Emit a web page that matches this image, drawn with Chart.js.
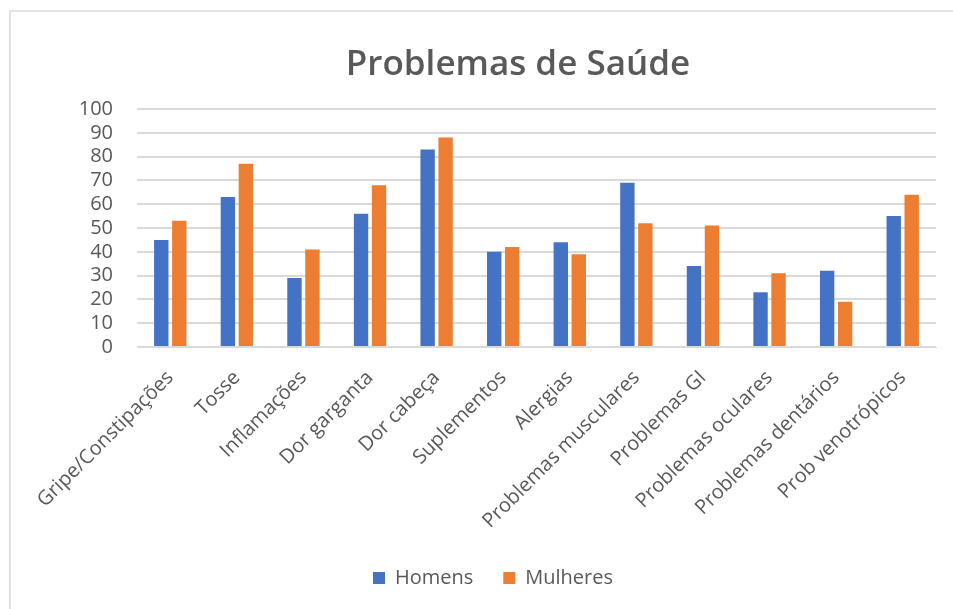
<!DOCTYPE html>
<html>
<head>
<meta charset="utf-8">
<script src="https://cdn.jsdelivr.net/npm/chart.js@4"></script>
<style>
html,body{margin:0;padding:0;background:#fff;}
#wrap{position:absolute;left:0;top:0;width:953px;height:609px;}
#frame{position:absolute;left:9px;top:10px;width:960px;height:620px;border-left:2px solid #e3e3e3;border-top:2px solid #e3e3e3;}
canvas{position:absolute;left:0;top:0;}
</style>
</head>
<body>
<div id="wrap"><div id="frame"></div><canvas id="c" width="953" height="609"></canvas></div>
<script>
const chartTitle = 'Problemas de Saúde';
const categories = ['Gripe/Constipações','Tosse','Inflamações','Dor garganta','Dor cabeça','Suplementos','Alergias','Problemas musculares','Problemas GI','Problemas oculares','Problemas dentários','Prob venotrópicos'];
const seriesNames = ['Homens','Mulheres'];
const homens = [45,63,29,56,83,40,44,69,34,23,32,55];
const mulheres = [53,77,41,68,88,42,39,52,51,31,19,64];
const yTicks = [0,10,20,30,40,50,60,70,80,90,100];

const FONT = "'Open Sans', 'Noto Sans', sans-serif";
const TEXT = '#595959';

const titlePlugin = {
  id: 'customTitle',
  afterDraw(chart) {
    const ctx = chart.ctx;
    ctx.save();
    ctx.font = "600 35px " + FONT;
    ctx.fillStyle = TEXT;
    ctx.textAlign = 'center';
    ctx.textBaseline = 'middle';
    ctx.fillText(chartTitle, 518, 65);
    ctx.restore();
  }
};

new Chart(document.getElementById('c'), {
  type: 'bar',
  data: {
    labels: categories,
    datasets: [
      {label: seriesNames[0], data: homens, backgroundColor: '#4472C4', categoryPercentage: 0.54, barPercentage: 0.8},
      {label: seriesNames[1], data: mulheres, backgroundColor: '#ED7D31', categoryPercentage: 0.54, barPercentage: 0.8}
    ]
  },
  options: {
    responsive: false,
    animation: false,
    layout: {padding: {left: 50, right: 17, top: 109, bottom: 11}},
    plugins: {
      title: {display: false},
      tooltip: {enabled: false},
      legend: {
        position: 'bottom',
        labels: {
          font: {family: FONT, size: 20},
          color: TEXT,
          boxWidth: 12,
          boxHeight: 12,
          padding: 30
        }
      }
    },
    scales: {
      x: {
        grid: {display: false, drawTicks: false},
        border: {color: '#d9d9d9', width: 1},
        afterFit(s) { s.height = 191; },
        ticks: {
          font: {family: FONT, size: 20},
          color: TEXT,
          minRotation: 45,
          maxRotation: 45,
          padding: 19,
          autoSkip: false
        }
      },
      y: {
        min: 0,
        max: 100,
        afterFit(s) { s.width = 87; },
        afterBuildTicks(s) { s.ticks = yTicks.map(v => ({value: v})); },
        grid: {color: '#d9d9d9', lineWidth: 2, drawTicks: false},
        border: {display: false},
        ticks: {
          font: {family: FONT, size: 20},
          color: TEXT,
          padding: 24,
          autoSkip: false
        }
      }
    }
  },
  plugins: [titlePlugin]
});
</script>
</body>
</html>
